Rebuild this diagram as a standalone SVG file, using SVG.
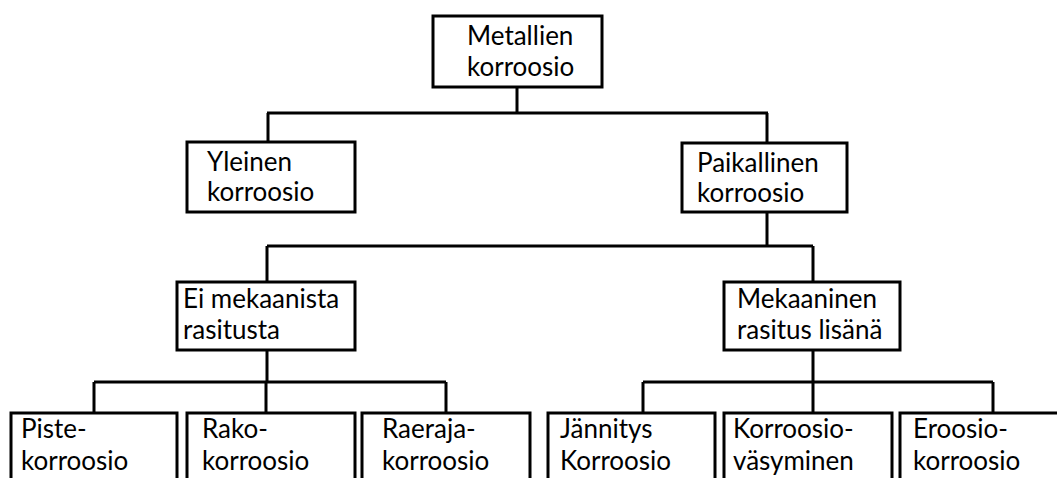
<svg xmlns="http://www.w3.org/2000/svg" width="1057" height="478" viewBox="0 0 1057 478">
<style>
.box{fill:#fff;stroke:#000;stroke-width:3}
.t{font-family:Lato,"Open Sans",sans-serif;font-size:26px;fill:#000}
.c{fill:none;stroke:#000;stroke-width:3;stroke-linejoin:miter}
</style>
<rect width="1057" height="478" fill="#fff"/>
<g id="connectors">
<path class="c" d="M517,87V113M267,113H768M268,113V142M767,113V143"/>
<path class="c" d="M767,212V246M267,246H813M267,246V282M813,246V282"/>
<path class="c" d="M267,350V382M94,382H446M94,382V413M266,382V413M446,382V413"/>
<path class="c" d="M813,350V382M643,382H993M643,382V413M813,382V413M993,382V413"/>
</g>
<g id="n-metallien">
<rect class="box" x="433" y="16" width="169" height="71"/>
<text class="t" x="467" y="45">Metallien</text>
<text class="t" x="467" y="76">korroosio</text>
</g>
<g id="n-yleinen">
<rect class="box" x="187" y="142" width="168" height="70"/>
<text class="t" x="207" y="171">Yleinen</text>
<text class="t" x="207" y="201">korroosio</text>
</g>
<g id="n-paikallinen">
<rect class="box" x="682" y="143" width="165" height="69"/>
<text class="t" x="697" y="172">Paikallinen</text>
<text class="t" x="697" y="202">korroosio</text>
</g>
<g id="n-eimekaanista">
<rect class="box" x="177" y="282" width="178" height="68"/>
<text class="t" x="183" y="308">Ei mekaanista</text>
<text class="t" x="183" y="339">rasitusta</text>
</g>
<g id="n-mekaaninen">
<rect class="box" x="724" y="282" width="176" height="68"/>
<text class="t" x="737" y="308">Mekaaninen</text>
<text class="t" x="737" y="339">rasitus lisänä</text>
</g>
<g id="n-piste">
<rect class="box" x="11" y="413" width="166" height="80"/>
<text class="t" x="21" y="438">Piste-</text>
<text class="t" x="21" y="470">korroosio</text>
</g>
<g id="n-rako">
<rect class="box" x="187" y="413" width="168" height="80"/>
<text class="t" x="202" y="438">Rako-</text>
<text class="t" x="202" y="470">korroosio</text>
</g>
<g id="n-raeraja">
<rect class="box" x="362" y="413" width="168" height="80"/>
<text class="t" x="382" y="438">Raeraja-</text>
<text class="t" x="382" y="470">korroosio</text>
</g>
<g id="n-jannitys">
<rect class="box" x="548" y="413" width="167" height="80"/>
<text class="t" x="560" y="438">Jännitys</text>
<text class="t" x="560" y="470">Korroosio</text>
</g>
<g id="n-vasyminen">
<rect class="box" x="724" y="413" width="168" height="80"/>
<text class="t" x="733" y="438">Korroosio-</text>
<text class="t" x="733" y="470">väsyminen</text>
</g>
<g id="n-eroosio">
<rect class="box" x="900" y="413" width="170" height="80"/>
<text class="t" x="913" y="438">Eroosio-</text>
<text class="t" x="913" y="470">korroosio</text>
</g>
</svg>
